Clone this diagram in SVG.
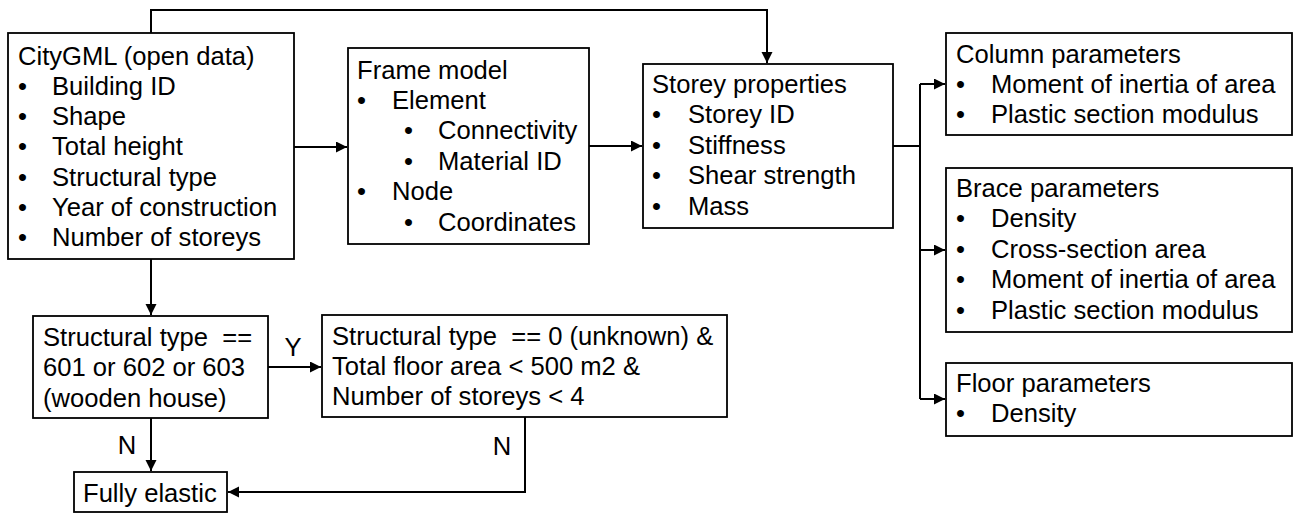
<svg xmlns="http://www.w3.org/2000/svg" width="1295" height="513" viewBox="0 0 1295 513">
<style>
.box{fill:#fff;stroke:#000;stroke-width:1.8}
.t{font-family:"Liberation Sans",Arial,sans-serif;font-size:25.6px;fill:#000;white-space:pre}
.c{fill:none;stroke:#000;stroke-width:2}
.a{marker-end:url(#arr)}
</style>
<defs>
<marker id="arr" markerUnits="userSpaceOnUse" markerWidth="12" markerHeight="12" refX="11" refY="5.5" orient="auto">
<path d="M0,0 L11,5.5 L0,11 z" fill="#000"/>
</marker>
</defs>
<rect width="1295" height="513" fill="#fff"/>
<g id="connectors">
<path class="c a" d="M151,33 V10 H767 V63"/>
<path class="c a" d="M294,147 H347"/>
<path class="c a" d="M589,146 H642"/>
<path class="c" d="M893,146 H920"/>
<path class="c" d="M920,84 V399"/>
<path class="c a" d="M920,84 H945"/>
<path class="c a" d="M920,250 H945"/>
<path class="c a" d="M920,399 H945"/>
<path class="c a" d="M151,259 V315"/>
<path class="c a" d="M268,367 H321"/>
<path class="c a" d="M151,418 V471"/>
<path class="c a" d="M525,417 V492 H228"/>
<text class="t" x="293" y="356" text-anchor="middle">Y</text>
<text class="t" x="127" y="454" text-anchor="middle">N</text>
<text class="t" x="502" y="455" text-anchor="middle">N</text>
</g>
<g id="citygml">
<rect class="box" x="8" y="33" width="286" height="226"/>
<text class="t" x="18" y="64.5">CityGML (open data)</text>
<text class="t" x="18" y="94.8">•</text><text class="t" x="52" y="94.8">Building ID</text>
<text class="t" x="18" y="125.1">•</text><text class="t" x="52" y="125.1">Shape</text>
<text class="t" x="18" y="155.4">•</text><text class="t" x="52" y="155.4">Total height</text>
<text class="t" x="18" y="185.7">•</text><text class="t" x="52" y="185.7">Structural type</text>
<text class="t" x="18" y="216">•</text><text class="t" x="52" y="216">Year of construction</text>
<text class="t" x="18" y="246.3">•</text><text class="t" x="52" y="246.3">Number of storeys</text>
</g>
<g id="frame-model">
<rect class="box" x="348" y="48" width="241" height="196"/>
<text class="t" x="357" y="78.5">Frame model</text>
<text class="t" x="357" y="108.9">•</text><text class="t" x="392" y="108.9">Element</text>
<text class="t" x="404" y="139.3">•</text><text class="t" x="438" y="139.3">Connectivity</text>
<text class="t" x="404" y="169.7">•</text><text class="t" x="438" y="169.7">Material ID</text>
<text class="t" x="357" y="200.1">•</text><text class="t" x="392" y="200.1">Node</text>
<text class="t" x="404" y="230.5">•</text><text class="t" x="438" y="230.5">Coordinates</text>
</g>
<g id="storey-properties">
<rect class="box" x="643" y="64" width="250" height="164"/>
<text class="t" x="652" y="93">Storey properties</text>
<text class="t" x="652" y="123.4">•</text><text class="t" x="688" y="123.4">Storey ID</text>
<text class="t" x="652" y="153.8">•</text><text class="t" x="688" y="153.8">Stiffness</text>
<text class="t" x="652" y="184.2">•</text><text class="t" x="688" y="184.2">Shear strength</text>
<text class="t" x="652" y="214.6">•</text><text class="t" x="688" y="214.6">Mass</text>
</g>
<g id="column-parameters">
<rect class="box" x="946" y="33" width="346" height="102"/>
<text class="t" x="956" y="63">Column parameters</text>
<text class="t" x="956" y="93">•</text><text class="t" x="991" y="93">Moment of inertia of area</text>
<text class="t" x="956" y="123">•</text><text class="t" x="991" y="123">Plastic section modulus</text>
</g>
<g id="brace-parameters">
<rect class="box" x="946" y="168" width="346" height="164"/>
<text class="t" x="956" y="197">Brace parameters</text>
<text class="t" x="956" y="227.4">•</text><text class="t" x="991" y="227.4">Density</text>
<text class="t" x="956" y="257.8">•</text><text class="t" x="991" y="257.8">Cross-section area</text>
<text class="t" x="956" y="288.2">•</text><text class="t" x="991" y="288.2">Moment of inertia of area</text>
<text class="t" x="956" y="318.6">•</text><text class="t" x="991" y="318.6">Plastic section modulus</text>
</g>
<g id="floor-parameters">
<rect class="box" x="946" y="363" width="346" height="73"/>
<text class="t" x="956" y="392">Floor parameters</text>
<text class="t" x="956" y="422">•</text><text class="t" x="991" y="422">Density</text>
</g>
<g id="check-wooden">
<rect class="box" x="33" y="316" width="235" height="102"/>
<text class="t" x="43" y="345.5">Structural type  ==</text>
<text class="t" x="43" y="376">601 or 602 or 603</text>
<text class="t" x="43" y="406.5">(wooden house)</text>
</g>
<g id="check-unknown">
<rect class="box" x="322" y="315" width="405" height="102"/>
<text class="t" x="332" y="345">Structural type  == 0 (unknown) &amp;</text>
<text class="t" x="332" y="375">Total floor area &lt; 500 m2 &amp;</text>
<text class="t" x="332" y="405">Number of storeys &lt; 4</text>
</g>
<g id="fully-elastic">
<rect class="box" x="74" y="472" width="153" height="40"/>
<text class="t" x="83" y="502">Fully elastic</text>
</g>
</svg>
